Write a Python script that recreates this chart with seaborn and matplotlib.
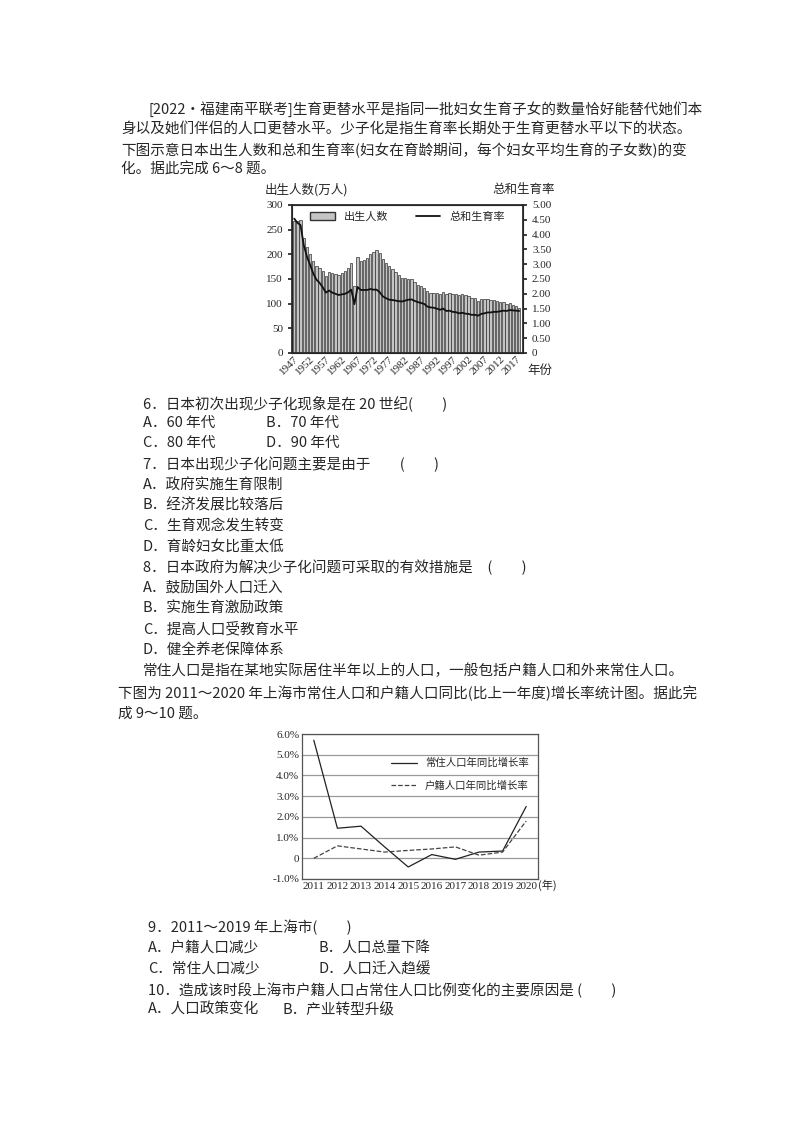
import matplotlib
matplotlib.use("Agg")
import matplotlib.pyplot as plt
import seaborn as sns
import numpy as np
import pandas as pd
from matplotlib.patches import Patch
from matplotlib.lines import Line2D

sns.set_theme(style="white")
plt.rcParams['font.family'] = ['Noto Sans CJK SC', 'DejaVu Sans']
plt.rcParams['axes.unicode_minus'] = False

# ---- data: Japan births & TFR ----
years1 = list(range(1947, 2019))
births = [268, 268, 270, 234, 214, 201, 187, 177, 173, 167, 157, 165, 163, 161, 159, 162,
          166, 172, 182, 136, 194, 187, 189, 193, 200, 204, 209, 203, 190, 183, 176, 171,
          164, 158, 153, 152, 151, 149, 143, 138, 135, 131, 125, 122, 122, 121, 119, 124,
          119, 121, 119, 120, 118, 119, 117, 115, 112, 111, 106, 109, 109, 109, 107, 107,
          105, 104, 103, 100, 101, 98, 95, 92]
tfr = [4.54, 4.40, 4.32, 3.65, 3.26, 2.98, 2.69, 2.48, 2.37, 2.22, 2.04, 2.11, 2.04, 2.00,
       1.96, 1.98, 2.00, 2.05, 2.14, 1.65, 2.23, 2.13, 2.13, 2.13, 2.16, 2.14, 2.14, 2.05,
       1.91, 1.85, 1.80, 1.79, 1.77, 1.75, 1.74, 1.77, 1.80, 1.81, 1.76, 1.72, 1.69, 1.66,
       1.57, 1.54, 1.53, 1.50, 1.46, 1.50, 1.42, 1.43, 1.39, 1.38, 1.34, 1.36, 1.33, 1.32,
       1.29, 1.29, 1.26, 1.32, 1.34, 1.37, 1.37, 1.39, 1.39, 1.41, 1.43, 1.42, 1.45, 1.44,
       1.43, 1.42]
year_ticks1 = list(range(1947, 2018, 5))

# ---- data: Shanghai growth ----
years2 = list(range(2011, 2021))
resident = [5.7, 1.45, 1.55, 0.55, -0.42, 0.18, -0.05, 0.3, 0.35, 2.5]
huji = [0.0, 0.6, 0.45, 0.3, 0.38, 0.45, 0.55, 0.15, 0.3, 1.8]

W, H = 800, 1132
fig = plt.figure(figsize=(8, 11.32), dpi=100)
fig.patch.set_facecolor('white')

def T(x, y, s, size=10.5, **kw):
    fig.text(x / W, 1 - y / H, s, fontsize=size, va='center', ha=kw.pop('ha', 'left'), **kw)

def axes_px(l, t, r, b):
    return fig.add_axes([l / W, 1 - b / H, (r - l) / W, (b - t) / H])

# top paragraph
T(148, 109, "[2022·福建南平联考]生育更替水平是指同一批妇女生育子女的数量恰好能替代她们本")
T(121, 129, "身以及她们伴侣的人口更替水平。少子化是指生育率长期处于生育更替水平以下的状态。")
T(121, 150, "下图示意日本出生人数和总和生育率(妇女在育龄期间，每个妇女平均生育的子女数)的变")
T(121, 170, "化。据此完成 6～8 题。")

# chart 1
ax = axes_px(292, 205, 523, 353)
df1 = pd.DataFrame({'year': years1, 'births': births, 'tfr': tfr})
sns.barplot(data=df1, x='year', y='births', native_scale=True, color='#c4c4c4',
            edgecolor='#333333', linewidth=0.5, width=0.75, ax=ax, saturation=1)
ax.set_xlim(1946.3, 2019.2)
ax.set_ylim(0, 300)
ax.set_yticks(range(0, 301, 50))
ax.set_xticks(year_ticks1)
ax.set_xticklabels([str(y) for y in year_ticks1], rotation=45, ha='right',
                   rotation_mode='anchor', fontsize=8, family='Liberation Serif')
ax.tick_params(axis='y', labelsize=8, length=3, direction='out', left=True)
ax.tick_params(axis='x', length=0, pad=1)
for lab in ax.get_yticklabels():
    lab.set_family('Liberation Serif')
ax.set_xlabel(''); ax.set_ylabel('')
for s in ax.spines.values():
    s.set_color('#222222'); s.set_linewidth(0.8)
ax2 = ax.twinx()
sns.lineplot(data=df1, x='year', y='tfr', color='#111111', linewidth=1.3, ax=ax2)
ax2.set_ylim(0, 5)
ax2.set_yticks(np.arange(0, 5.01, 0.5))
ax2.set_yticklabels(['0'] + [f"{v:.2f}" for v in np.arange(0.5, 5.01, 0.5)],
                    fontsize=8, family='Liberation Serif')
ax2.tick_params(axis='y', length=3, direction='out', right=True)
ax2.set_ylabel('')
ax.legend(handles=[Patch(facecolor='#c4c4c4', edgecolor='#333333', label='出生人数'),
                   Line2D([0], [0], color='#111111', lw=1.3, label='总和生育率')],
          loc='upper center', ncol=2, frameon=False, fontsize=8, handlelength=2.2,
          columnspacing=2.5, borderaxespad=0.2)
T(265, 190, "出生人数(万人)", size=9)
T(555, 190, "总和生育率", size=9, ha='right')
T(527, 370, "年份", size=9)

# questions 6-8
qs = [(143, 403, "6．日本初次出现少子化现象是在 20 世纪(　　)"),
      (143, 423, "A．60 年代"), (266, 423, "B．70 年代"),
      (143, 443, "C．80 年代"), (266, 443, "D．90 年代"),
      (143, 464, "7．日本出现少子化问题主要是由于　　(　　)"),
      (143, 485, "A．政府实施生育限制"),
      (143, 505, "B．经济发展比较落后"),
      (143, 526, "C．生育观念发生转变"),
      (143, 547, "D．育龄妇女比重太低"),
      (143, 567, "8．日本政府为解决少子化问题可采取的有效措施是　(　　)"),
      (143, 588, "A．鼓励国外人口迁入"),
      (143, 609, "B．实施生育激励政策"),
      (143, 629, "C．提高人口受教育水平"),
      (143, 650, "D．健全养老保障体系")]
for x, y, s in qs:
    T(x, y, s)
T(143, 671, "常住人口是指在某地实际居住半年以上的人口，一般包括户籍人口和外来常住人口。")
T(118, 693, "下图为 2011～2020 年上海市常住人口和户籍人口同比(比上一年度)增长率统计图。据此完")
T(118, 714, "成 9～10 题。")

# chart 2
bx = axes_px(302, 734, 538, 879)
df2 = pd.DataFrame({'year': years2, '常住人口年同比增长率': resident, '户籍人口年同比增长率': huji})
sns.lineplot(data=df2, x='year', y='常住人口年同比增长率', color='#222222', linewidth=0.9,
             ax=bx, label='常住人口年同比增长率')
sns.lineplot(data=df2, x='year', y='户籍人口年同比增长率', color='#444444', linewidth=0.9,
             linestyle='--', ax=bx, label='户籍人口年同比增长率')
bx.set_xlim(2010.5, 2020.5)
bx.set_ylim(-1, 6)
bx.set_yticks(range(-1, 7))
bx.set_yticklabels(['-1.0%', '0', '1.0%', '2.0%', '3.0%', '4.0%', '5.0%', '6.0%'],
                   fontsize=8, family='Liberation Serif')
bx.set_xticks(years2)
bx.set_xticklabels([str(y) for y in years2], fontsize=8, family='Liberation Serif')
bx.tick_params(length=0, pad=2)
bx.grid(axis='y', color='#999999', linewidth=0.9)
bx.set_xlabel(''); bx.set_ylabel('')
for s in bx.spines.values():
    s.set_color('#555555'); s.set_linewidth(0.9)
bx.legend(loc='upper right', bbox_to_anchor=(1.0, 0.9), frameon=False, fontsize=7.5,
          handlelength=2.5, labelspacing=1.2)
T(538, 885, "(年)", size=8)

# questions 9-10
T(148, 927, "9．2011～2019 年上海市(　　)")
T(148, 948, "A．户籍人口减少"); T(318, 948, "B．人口总量下降")
T(148, 969, "C．常住人口减少"); T(318, 969, "D．人口迁入趋缓")
T(148, 990, "10．造成该时段上海市户籍人口占常住人口比例变化的主要原因是 (　　)")
T(148, 1010, "A．人口政策变化"); T(283, 1010, "B．产业转型升级")

fig.savefig("out.png", dpi=100, facecolor='white')
